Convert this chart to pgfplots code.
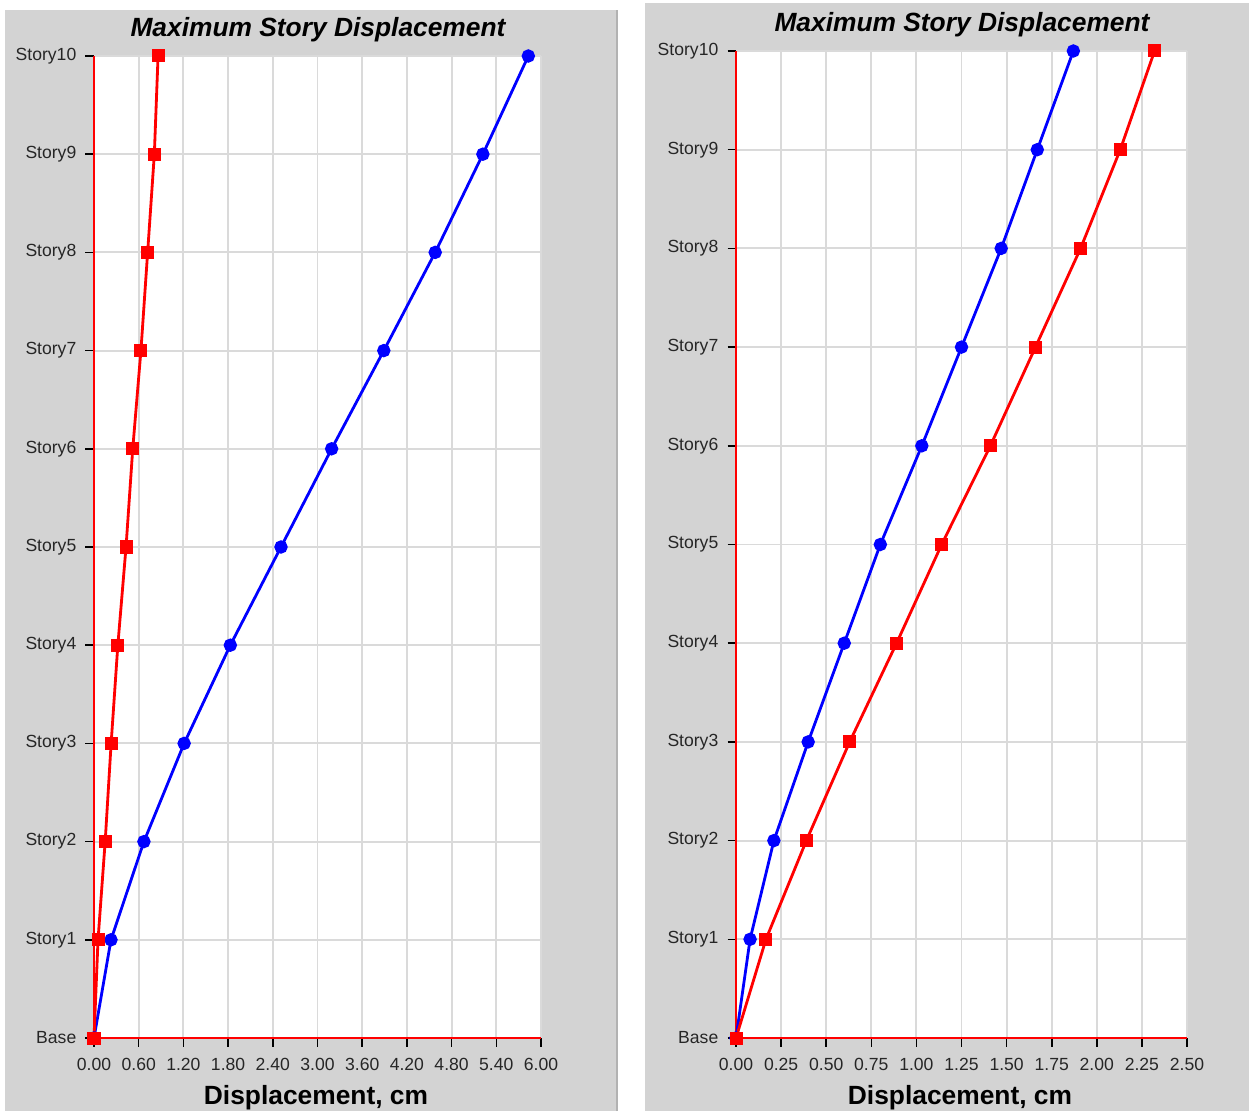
\documentclass[border=0pt]{standalone}
\usepackage{fontspec}
\setmainfont{Liberation Sans}
\usepackage{pgfplots}
\pgfplotsset{compat=1.18}
\definecolor{panel}{RGB}{211,211,211}
\definecolor{gridc}{RGB}{218,218,218}
\definecolor{pblue}{RGB}{0,0,255}
\definecolor{pred}{RGB}{255,0,0}
\pgfplotsset{storyax/.style={
  scale only axis, anchor=south west,
  ymin=0, ymax=10, xmin=0,
  ytick={0,1,...,10},
  yticklabels={Base,Story1,Story2,Story3,Story4,Story5,Story6,Story7,Story8,Story9,Story10},
  axis x line*=bottom, axis y line*=left,
  axis line style={pred, line width=1pt, -},
  tick align=outside, major tick length=0.17cm,
  tick style={black, line width=0.9pt},
  xmajorgrids, ymajorgrids,
  major grid style={gridc, line width=1.1pt},
  axis background/.style={fill=white},
  tick label style={font=\fontsize{10}{12}\selectfont, text=black!85},
  xticklabel style={yshift=-0.11cm},
  yticklabel style={xshift=-0.06cm},
  /pgf/number format/.cd, fixed, fixed zerofill, precision=2, assume math mode=true,
  /pgfplots/.cd,
  clip=false,
}}
\begin{document}
\begin{tikzpicture}
\useasboundingbox (0,0) rectangle (24.98,22.22);
\fill[panel] (0.1,0) rectangle (12.34,22.02);
\draw[black!30, line width=0.6pt] (12.34,0) -- (12.34,22.02);
\fill[panel] (12.9,0) rectangle (24.98,22.16);
\node[font=\fontsize{15}{18}\selectfont\bfseries\itshape] at (6.36,21.63) {Maximum Story Displacement};
\node[font=\fontsize{15}{18}\selectfont\bfseries\itshape] at (19.24,21.72) {Maximum Story Displacement};
\node[font=\fontsize{15}{18}\selectfont\bfseries] at (6.32,0.26) {Displacement, cm};
\node[font=\fontsize{15}{18}\selectfont\bfseries] at (19.2,0.26) {Displacement, cm};

\begin{axis}[storyax, at={(1.88cm,1.46cm)}, width=8.94cm, height=19.64cm,
  xmax=6, xtick={0,0.6,...,6.01}]
\addplot[pblue, line width=1.6pt, mark=*, mark size=3pt] coordinates {
(0,0) (0.228,1) (0.67,2) (1.21,3) (1.83,4) (2.51,5) (3.19,6) (3.89,7) (4.58,8) (5.22,9) (5.83,10)};
\addplot[pred, line width=1.6pt, mark=square*, mark size=2.9pt] coordinates {
(0,0) (0.054,1) (0.15,2) (0.23,3) (0.32,4) (0.43,5) (0.52,6) (0.63,7) (0.72,8) (0.81,9) (0.86,10)};
\end{axis}

\begin{axis}[storyax, at={(14.72cm,1.46cm)}, width=9.02cm, height=19.74cm,
  xmax=2.5, xtick={0,0.25,...,2.51}]
\addplot[pblue, line width=1.6pt, mark=*, mark size=3pt] coordinates {
(0,0) (0.078,1) (0.21,2) (0.40,3) (0.60,4) (0.80,5) (1.03,6) (1.25,7) (1.47,8) (1.67,9) (1.87,10)};
\addplot[pred, line width=1.6pt, mark=square*, mark size=2.9pt] coordinates {
(0,0) (0.166,1) (0.39,2) (0.63,3) (0.89,4) (1.14,5) (1.41,6) (1.66,7) (1.91,8) (2.13,9) (2.32,10)};
\end{axis}
\end{tikzpicture}
\end{document}
